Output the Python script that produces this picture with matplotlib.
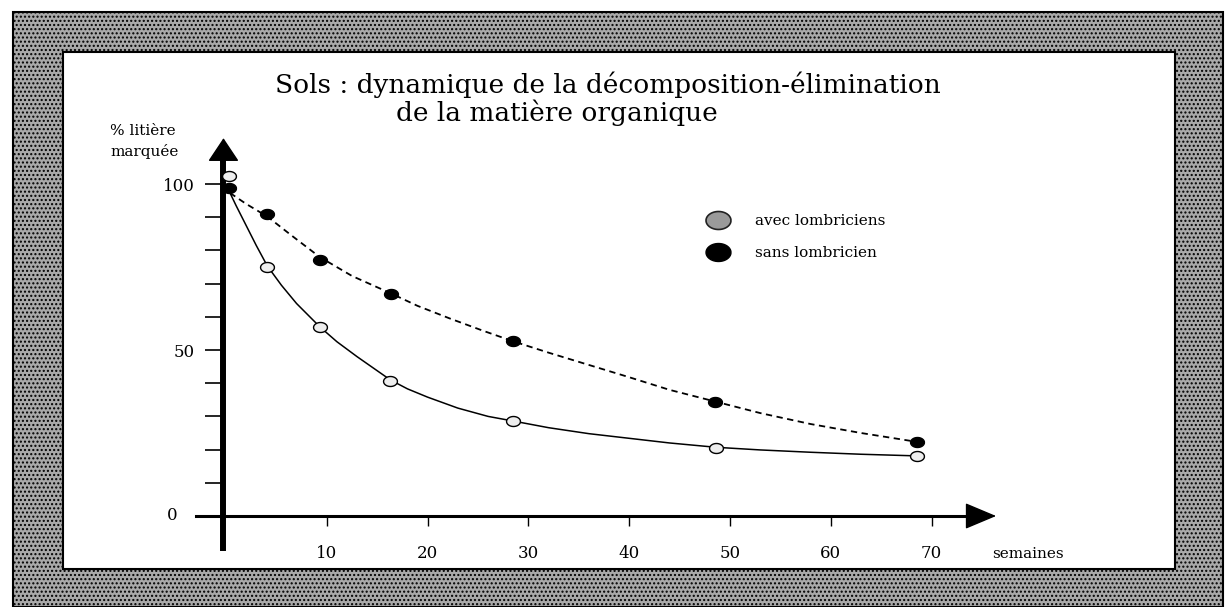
import numpy as np
import matplotlib.pyplot as plt
from matplotlib.lines import Line2D
from matplotlib.patches import Rectangle

W, H = 1227, 607

# values (weeks, % labelled litter left)
weeks_avec = [0.3, 4.1, 9.3, 16.3, 28.5, 48.6, 68.6]
pct_avec = [102.5, 75.0, 57.0, 40.8, 28.6, 20.5, 18.1]
weeks_sans = [0.3, 4.1, 9.3, 16.4, 28.5, 48.5, 68.6]
pct_sans = [98.8, 91.0, 77.0, 67.0, 52.6, 34.4, 22.3]

# hand drawn fitted curves, read at positions along the lines
curve_avec_x = [0.4, 1.0, 2.0, 3.0, 4.1, 5.5, 7.0, 9.3, 11.0, 13.0, 16.3, 18.0,
                20.0, 23.0, 26.0, 28.5, 32.0, 36.0, 40.0, 44.0, 48.6, 53.0,
                58.0, 63.0, 68.6]
curve_avec_y = [97.3, 93.5, 87.5, 81.5, 75.3, 69.5, 64.0, 57.0, 52.5, 48.0, 41.0,
                38.3, 35.8, 32.5, 30.0, 28.6, 26.6, 24.8, 23.4, 22.0, 20.7, 19.9,
                19.2, 18.6, 18.1]
curve_sans_x = [0.4, 2.0, 4.1, 6.5, 9.3, 12.5, 16.4, 19.0, 22.2, 25.5, 28.5, 32.0,
                36.0, 40.0, 44.0, 48.5, 53.0, 58.0, 63.0, 68.6]
curve_sans_y = [97.3, 94.0, 90.2, 84.5, 78.0, 72.3, 67.0, 63.3, 59.5, 55.8, 52.6,
                49.2, 45.5, 41.8, 38.0, 34.5, 31.0, 27.7, 25.0, 22.3]

x_ticks = [10, 20, 30, 40, 50, 60, 70]
y_ticks = [10, 20, 30, 40, 50, 60, 70, 80, 90, 100]
y_labels = ["" if v not in (50, 100) else str(v) for v in y_ticks]

SERIF = ["DejaVu Serif"]


def fx(x):
    return x / W


def fy(y):
    return 1 - y / H


fig = plt.figure(figsize=(W / 100, H / 100), dpi=100)

# scanned grey frame around a white panel
fig.patches.append(Rectangle((fx(13), 0), fx(1223) - fx(13), fy(12),
                             transform=fig.transFigure, facecolor="#a9a9a9",
                             edgecolor="black", lw=1.5, hatch="....", zorder=0))
fig.patches.append(Rectangle((fx(63), fy(569)), fx(1175) - fx(63), fy(52) - fy(569),
                             transform=fig.transFigure, facecolor="white",
                             edgecolor="black", lw=1.5, zorder=0))

ax = fig.add_axes([0, 0, 1, 1])
ax.set_zorder(2)
ax.patch.set_alpha(0)
px_x, px_y = 10.08, 3.32  # pixels per data unit
ax.set_xlim(-226 / px_x, (W - 226) / px_x)
ax.set_ylim((516 - H) / px_y, 516 / px_y)

# fitted curves
ax.plot(curve_avec_x, curve_avec_y, color="black", lw=1.1)
ax.plot(curve_sans_x, curve_sans_y, color="black", lw=1.3, ls=(0, (3.5, 2.5)))

t = np.linspace(0, 2 * np.pi, 40)
ellipse = list(zip(np.cos(t), 0.72 * np.sin(t)))

ax.plot(weeks_avec, pct_avec, ls="none", marker=ellipse, ms=10,
        mfc="#eeeeee", mec="black", mew=1.0, zorder=4)
ax.plot(weeks_sans, pct_sans, ls="none", marker=ellipse, ms=10,
        mfc="black", mec="black", zorder=4)

# axes as arrows
for side in ["top", "right"]:
    ax.spines[side].set_visible(False)
ax.spines["left"].set_position(("data", -0.25))
ax.spines["left"].set_bounds(-9.6, 110)
ax.spines["left"].set_linewidth(4.3)
ax.spines["bottom"].set_position(("data", 0))
ax.spines["bottom"].set_bounds(-3.0, 75)
ax.spines["bottom"].set_linewidth(2.2)

ax.annotate("", xy=(-0.25, 113.8), xytext=(-0.25, 105),
            arrowprops=dict(arrowstyle="-|>,head_length=0.75,head_width=0.5",
                            mutation_scale=20, lw=1, color="black",
                            shrinkA=0, shrinkB=0))
ax.annotate("", xy=(76.4, 0), xytext=(73, 0),
            arrowprops=dict(arrowstyle="-|>,head_length=1.0,head_width=0.42",
                            mutation_scale=20, lw=1, color="black",
                            shrinkA=0, shrinkB=0))

ax.set_xticks(x_ticks)
ax.set_xticklabels([str(v) for v in x_ticks], family=SERIF, fontsize=12)
ax.set_yticks(y_ticks)
ax.set_yticklabels(y_labels, family=SERIF, fontsize=12)
ax.tick_params(axis="x", direction="out", length=7, width=1.0, pad=14)
ax.tick_params(axis="y", direction="out", length=13, width=1.2, pad=8)
ax.text(-5.3, 0, "0", family=SERIF, fontsize=12, ha="center", va="center")

# titles and labels
fig.text(fx(608), fy(93), "Sols : dynamique de la décomposition-élimination",
         family=SERIF, fontsize=19, ha="center", va="baseline")
fig.text(fx(557), fy(121), "de la matière organique",
         family=SERIF, fontsize=19, ha="center", va="baseline")
fig.text(fx(110), fy(124), "% litière\nmarquée", family=SERIF, fontsize=11,
         ha="left", va="top", linespacing=1.5)
fig.text(fx(992), fy(558), "semaines", family=SERIF, fontsize=11,
         ha="left", va="baseline")

handles = [
    Line2D([], [], ls="none", marker=ellipse, ms=18, mfc="#9a9a9a", mec="#222222", mew=1.2),
    Line2D([], [], ls="none", marker=ellipse, ms=18, mfc="black", mec="black"),
]
ax.legend(handles, ["avec lombriciens", "sans lombricien"], loc="upper left",
          bbox_to_anchor=(fx(708), fy(214)), bbox_transform=fig.transFigure,
          frameon=False, borderpad=0, borderaxespad=0, handlelength=1.3,
          handletextpad=1.8, labelspacing=1.2, prop=dict(family=SERIF, size=11))

fig.savefig("out.png", dpi=100)
